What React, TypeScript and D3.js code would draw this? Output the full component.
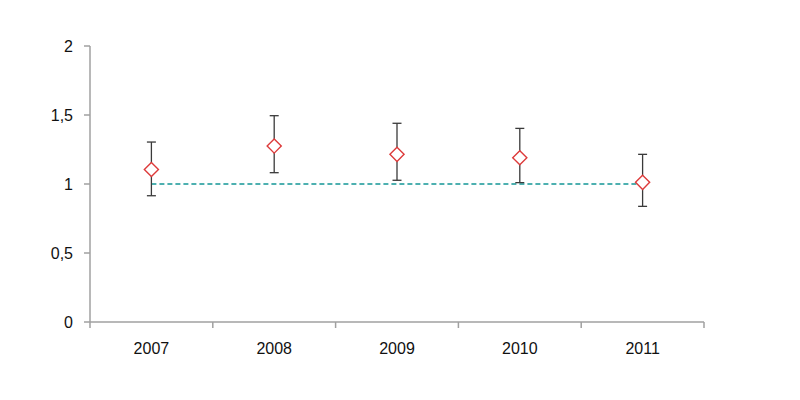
import React from "react";
import * as d3 from "d3";

const categories = ["2007", "2008", "2009", "2010", "2011"];
const values = [1.105, 1.275, 1.215, 1.19, 1.012];
const upper = [1.304, 1.495, 1.44, 1.403, 1.215];
const lower = [0.915, 1.082, 1.027, 1.01, 0.838];
const yTicks = [0, 0.5, 1, 1.5, 2];
const yTickLabels = ["0", "0,5", "1", "1,5", "2"];
const referenceValue = 1;

export default function App() {
  const width = 800;
  const height = 400;
  const left = 90;
  const right = 704;
  const top = 46;
  const bottom = 322;

  const x = d3.scaleBand().domain(categories).range([left, right]).padding(0);
  const y = d3.scaleLinear().domain([0, 2]).range([bottom, top]);
  const cx = (c: string) => (x(c) as number) + x.bandwidth() / 2;

  const font = "'Liberation Sans', Arial, sans-serif";
  const axisColor = "#a0a0a0";
  const diamond = d3.symbol().type(d3.symbolSquare).size(100)();

  const xTickPositions = [...categories.map((c) => x(c) as number), right];

  return (
    <svg
      width={width}
      height={height}
      style={{ position: "absolute", left: 0, top: 0, background: "#fff" }}
      fontFamily={font}
    >
      {/* y axis */}
      <line x1={left} x2={left} y1={top} y2={bottom} stroke={axisColor} strokeWidth={1.5} />
      {yTicks.map((t, i) => (
        <g key={t}>
          <line x1={left - 6} x2={left} y1={y(t)} y2={y(t)} stroke={axisColor} strokeWidth={1.5} />
          <text x={73} y={y(t)} dy="0.36em" textAnchor="end" fontSize={16} fill="#111">
            {yTickLabels[i]}
          </text>
        </g>
      ))}
      {/* x axis */}
      <line x1={left} x2={right} y1={bottom} y2={bottom} stroke={axisColor} strokeWidth={1.5} />
      {xTickPositions.map((p, i) => (
        <line key={i} x1={p} x2={p} y1={bottom} y2={bottom + 6} stroke={axisColor} strokeWidth={1.5} />
      ))}
      {categories.map((c) => (
        <text key={c} x={cx(c)} y={348} dy="0.36em" textAnchor="middle" fontSize={16} fill="#111">
          {c}
        </text>
      ))}
      {/* reference line */}
      <line
        x1={cx(categories[0])}
        x2={cx(categories[categories.length - 1])}
        y1={y(referenceValue)}
        y2={y(referenceValue)}
        stroke="#139797"
        strokeWidth={1.4}
        strokeDasharray="5,3"
      />
      {/* error bars */}
      {categories.map((c, i) => (
        <g key={c} stroke="#3a3a3a" strokeWidth={1.3}>
          <line x1={cx(c)} x2={cx(c)} y1={y(upper[i])} y2={y(lower[i])} />
          <line x1={cx(c) - 4.5} x2={cx(c) + 4.5} y1={y(upper[i])} y2={y(upper[i])} />
          <line x1={cx(c) - 4.5} x2={cx(c) + 4.5} y1={y(lower[i])} y2={y(lower[i])} />
        </g>
      ))}
      {/* markers */}
      {categories.map((c, i) => (
        <path
          key={c}
          d={diamond as string}
          transform={`translate(${cx(c)},${y(values[i])}) rotate(45)`}
          fill="#fff"
          stroke="#dd3b3b"
          strokeWidth={1.4}
        />
      ))}
    </svg>
  );
}
